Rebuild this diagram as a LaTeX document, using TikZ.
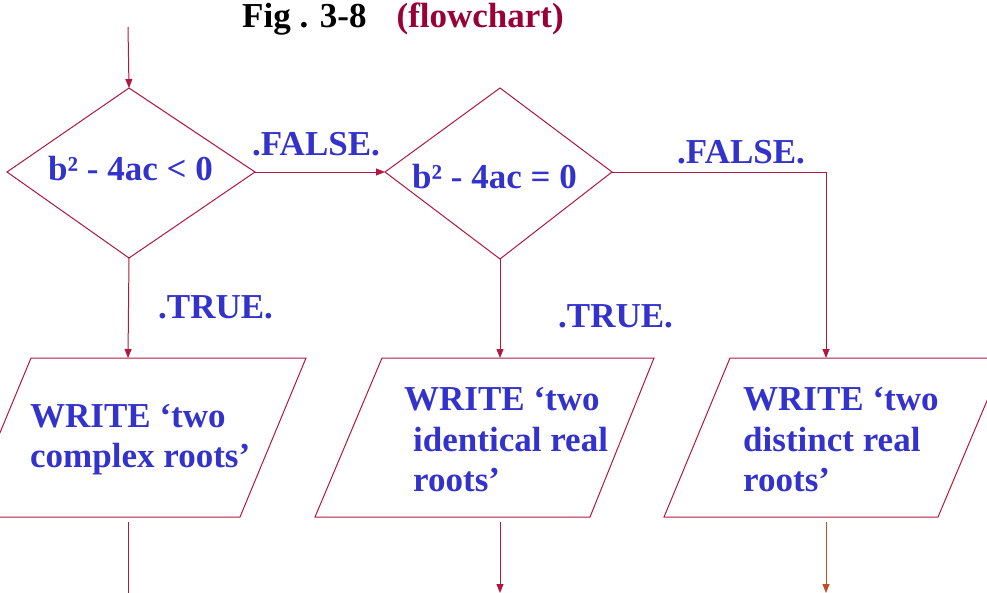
\documentclass[tikz,border=0pt]{standalone}
\usepackage{fontspec}
\setmainfont{Liberation Serif}
\usetikzlibrary{arrows.meta}
\definecolor{ln}{RGB}{176,24,64}
\definecolor{txt}{RGB}{51,51,204}
\definecolor{ttl}{RGB}{153,0,51}
\definecolor{orl}{RGB}{190,80,40}
\begin{document}
\begin{tikzpicture}[x=1pt,y=-1pt,
  shapeline/.style={draw=ln, line width=1pt},
  conn/.style={draw=ln, line width=1pt, -{Triangle[length=9pt,width=7pt]}},
  lab/.style={anchor=base west, inner sep=0pt, text=txt, font=\bfseries\fontsize{35}{42}\selectfont}]
\useasboundingbox (0,0) rectangle (987,592);
\clip (0,0) rectangle (987,592);
% title
\node[anchor=base west, inner sep=0pt, font=\bfseries\fontsize{35}{40}\selectfont] (title) at (242,27) {Fig . 3-8\hspace{30pt}\textcolor{ttl}{(flowchart)}};
% diamond 1
\coordinate (d1t) at (129,88); \coordinate (d1r) at (255,172);
\coordinate (d1b) at (129,258); \coordinate (d1l) at (7,172);
\draw[shapeline] (d1t) -- (d1r) -- (d1b) -- (d1l) -- cycle;
\node[lab] (d1txt) at (48,180) {b² - 4ac < 0};
% diamond 2
\coordinate (d2t) at (500,88); \coordinate (d2r) at (612,172);
\coordinate (d2b) at (500,259); \coordinate (d2l) at (385,172);
\draw[shapeline] (d2t) -- (d2r) -- (d2b) -- (d2l) -- cycle;
\node[lab] (d2txt) at (412,188) {b² - 4ac = 0};
% parallelograms
\coordinate (p1t) at (128,358); \coordinate (p1b) at (128,517);
\draw[shapeline] (31,358) -- (306,358) -- (240,517) -- (-35,517) -- cycle;
\coordinate (p2t) at (500,358); \coordinate (p2b) at (500,517);
\draw[shapeline] (382,358) -- (654,358) -- (590,517) -- (315,517) -- cycle;
\coordinate (p3t) at (826,358); \coordinate (p3b) at (826,517);
\draw[shapeline] (730,358) -- (1005,358) -- (938,517) -- (664,517) -- cycle;
% texts in parallelograms
\node[lab] (p1a) at (30,427) {WRITE ‘two};
\node[lab] (p1c) at (30,467) {complex roots’};
\node[lab] (p2a) at (404,410) {WRITE ‘two};
\node[lab] (p2c) at (413,451) {identical real};
\node[lab] (p2d) at (413,491) {roots’};
\node[lab] (p3a) at (743,410) {WRITE ‘two};
\node[lab] (p3c) at (743,451) {distinct real};
\node[lab] (p3d) at (743,491) {roots’};
% connectors
\coordinate (start) at (128,27);
\draw[conn] (start) -- (d1t);
\draw[conn] (d1r) -- (d2l);
\draw[conn] (d1b) -- (p1t);
\draw[conn] (d2b) -- (p2t);
\draw[conn] (d2r) -| (p3t);
\coordinate (e1) at (128,602); \coordinate (e2) at (500,593); \coordinate (e3) at (826,593);
\coordinate (s1) at (128,522); \coordinate (s2) at (500,522); \coordinate (s3) at (826,522);
\draw[conn] (s1) -- (e1);
\draw[conn] (s2) -- (e2);
\draw[conn, draw=orl] (s3) -- (e3);
% labels
\node[lab] (f1) at (252,155) {.FALSE.};
\node[lab] (f2) at (677,163) {.FALSE.};
\node[lab] (t1) at (158,318) {.TRUE.};
\node[lab] (t2) at (558,327) {.TRUE.};
\end{tikzpicture}
\end{document}
